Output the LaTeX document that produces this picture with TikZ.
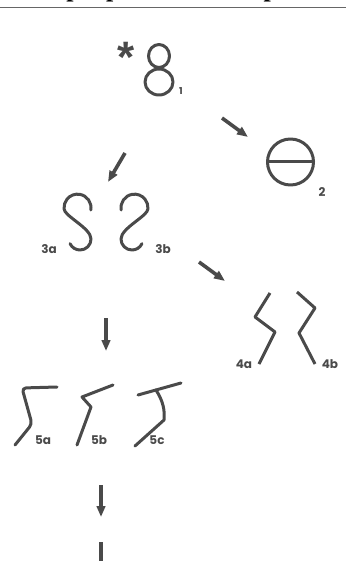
\documentclass[tikz,border=0pt]{standalone}
\usepackage{fontspec}
\newfontfamily\labfont{Poppins}
\newfontfamily\topfont{Liberation Serif}
\newfontfamily\starfont{Liberation Sans}
\usetikzlibrary{arrows.meta}
\definecolor{ink}{HTML}{4A4A4A}
\begin{document}
\begin{tikzpicture}[x=1pt,y=-1pt,
  glyph/.style={draw=ink, line width=3pt, line cap=round, line join=round},
  arr/.style={draw=ink, line width=3.6pt, -{Triangle[length=11pt,width=8.5pt]}},
  lab/.style={text=ink, font=\labfont\bfseries\fontsize{12}{12}\selectfont, inner sep=0pt}]
\useasboundingbox (0,0) rectangle (351,561);
\fill[white] (0,0) rectangle (351,561);
% cut-off heading
\begin{scope}
\clip (0,0) rectangle (351,561);
\node[anchor=base west, inner sep=0pt, font=\topfont\bfseries\fontsize{26}{26}\selectfont] (head) at (-6,-3) {l'exemple pour les inscriptions};
\end{scope}
\coordinate (ruleL) at (0,7.5);
\coordinate (ruleR) at (346,7.5);
\draw[black!60, line width=0.8pt] (ruleL) -- (ruleR);

% 1 : *8
\node[anchor=north, inner sep=0pt, text=ink, font=\starfont\bfseries\fontsize{44}{44}\selectfont] (star) at (126,42) {*};
\draw[glyph] (159,56) ellipse[x radius=10.5, y radius=11.5];
\draw[glyph] (159,82) ellipse[x radius=14, y radius=13];
\node[lab, font=\labfont\bfseries\fontsize{9.5}{9.5}\selectfont] (l1) at (181,91) {1};

% 2 : circle with bar
\draw[glyph] (290.5,162) circle[radius=23];
\draw[glyph] (267.5,162) -- (313.5,162);
\node[lab] (l2) at (322,192) {2};

% 3a, 3b
\draw[glyph] (90.8,210) arc[start angle=10, end angle=-185, radius=13.5]
  .. controls (64,216) and (91,228) .. (91,239)
  arc[start angle=0, end angle=155, radius=11];
\begin{scope}[shift={(212,0)}, xscale=-1]
\draw[glyph] (90.8,210) arc[start angle=10, end angle=-185, radius=13.5]
  .. controls (64,216) and (91,228) .. (91,239)
  arc[start angle=0, end angle=155, radius=11];
\end{scope}
\node[lab] (l3a) at (49,249) {3a};
\node[lab] (l3b) at (163,249) {3b};

% 4a, 4b
\draw[glyph, line cap=butt] (270,293) -- (255,317) -- (275,332) -- (259,364);
\draw[glyph, line cap=butt] (297,292) -- (315,308) -- (299,333) -- (315,364);
\node[lab] (l4a) at (244,364) {4a};
\node[lab] (l4b) at (330,364) {4b};

% 5a, 5b, 5c
\draw[glyph, rounded corners=4pt] (57,387) -- (22,388) -- (32,424) -- (15,445);
\draw[glyph] (113,385) -- (82,397) -- (91,407) -- (77,445);
\draw[glyph] (181,383) -- (138,395);
\draw[glyph] (156,390) .. controls (163,401) and (165,410) .. (164,420) -- (135,446);
\node[lab] (l5a) at (43,440) {5a};
\node[lab] (l5b) at (99,440) {5b};
\node[lab] (l5c) at (157,440) {5c};

% arrows
\coordinate (a12s) at (222,118); \coordinate (a12e) at (248,137);
\coordinate (a13s) at (125,153); \coordinate (a13e) at (108,182);
\coordinate (a34s) at (199,262); \coordinate (a34e) at (225,281);
\coordinate (a35s) at (106,318); \coordinate (a35e) at (106,351);
\coordinate (a56s) at (101,485); \coordinate (a56e) at (101,517);
\coordinate (s6t) at (101,542); \coordinate (s6b) at (101,562);
\draw[arr] (a12s) -- (a12e);
\draw[arr] (a13s) -- (a13e);
\draw[arr] (a34s) -- (a34e);
\draw[arr] (a35s) -- (a35e);
\draw[arr] (a56s) -- (a56e);
\draw[glyph, line width=3.6pt, line cap=butt] (s6t) -- (s6b);
\end{tikzpicture}
\end{document}
